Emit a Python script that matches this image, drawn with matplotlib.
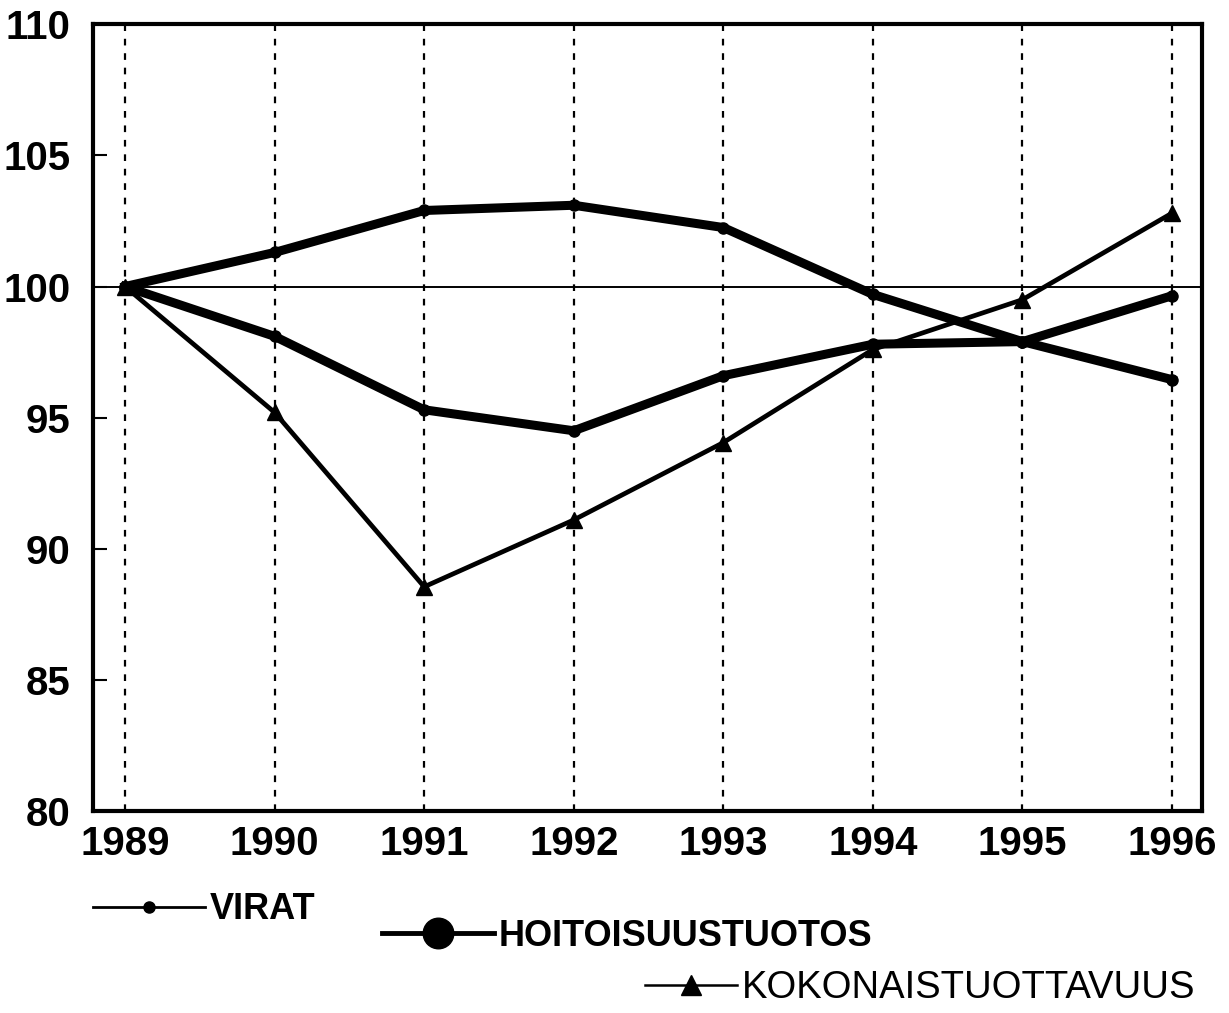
import matplotlib
matplotlib.use('Agg')
import matplotlib.pyplot as plt
from matplotlib.lines import Line2D

plt.rcParams['font.family'] = ['Liberation Sans', 'DejaVu Sans']

# data (index 1989 = 100)
years = [1989, 1990, 1991, 1992, 1993, 1994, 1995, 1996]
virat = [100, 101.3, 102.9, 103.1, 102.25, 99.7, 97.9, 96.45]
hoitoisuustuotos = [100, 98.1, 95.3, 94.5, 96.6, 97.8, 97.9, 99.65]
kokonaistuottavuus = [100, 95.2, 88.55, 91.1, 94.05, 97.6, 99.5, 102.8]
y_ticks = [80, 85, 90, 95, 100, 105, 110]
labels = ['VIRAT', 'HOITOISUUSTUOTOS', 'KOKONAISTUOTTAVUUS']

fig = plt.figure(figsize=(12.29, 10.13), dpi=100)
ax = fig.add_axes([0.0757, 0.1994, 0.9023, 0.7766])

# dotted verticals at each year + reference line at 100
for yr in years:
    ax.axvline(yr, color='black', lw=1.6, linestyle=(0, (3, 3.5)), zorder=1)
ax.axhline(100, color='black', lw=1.4, zorder=2)

ax.plot(years, virat, color='black', lw=6.5, marker='o', ms=8, zorder=4)
ax.plot(years, hoitoisuustuotos, color='black', lw=6.5, marker='o', ms=8, zorder=4)
ax.plot(years, kokonaistuottavuus, color='black', lw=3.4, marker='^', ms=12, zorder=3)

ax.set_xlim(1988.786, 1996.2)
ax.set_ylim(80, 110)
ax.set_xticks(years)
ax.set_yticks(y_ticks)
ax.tick_params(axis='y', direction='in', length=10, width=1.5, pad=16, labelsize=29)
ax.tick_params(axis='x', length=0, pad=10, labelsize=29)
for lab in ax.get_xticklabels() + ax.get_yticklabels():
    lab.set_fontweight('bold')
for sp in ax.spines.values():
    sp.set_linewidth(3)

# legend: three separate entries, staggered like the original
h1 = Line2D([], [], color='black', lw=2, marker='o', ms=8)
h2 = Line2D([], [], color='black', lw=3.5, marker='o', ms=22)
h3 = Line2D([], [], color='black', lw=1.8, marker='^', ms=15)

common = dict(frameon=False, borderpad=0, borderaxespad=0, handletextpad=0.12,
              loc='center left')
fig.legend([h1], [labels[0]], bbox_to_anchor=(0.0757, 0.102), handlelength=3.1,
           prop={'size': 26, 'weight': 'bold'}, **common)
fig.legend([h2], [labels[1]], bbox_to_anchor=(0.311, 0.076), handlelength=3.1,
           prop={'size': 26, 'weight': 'bold'}, **common)
fig.legend([h3], [labels[2]], bbox_to_anchor=(0.525, 0.0245), handlelength=2.4,
           prop={'size': 27.5}, **common)

plt.savefig('out.png', dpi=100)
